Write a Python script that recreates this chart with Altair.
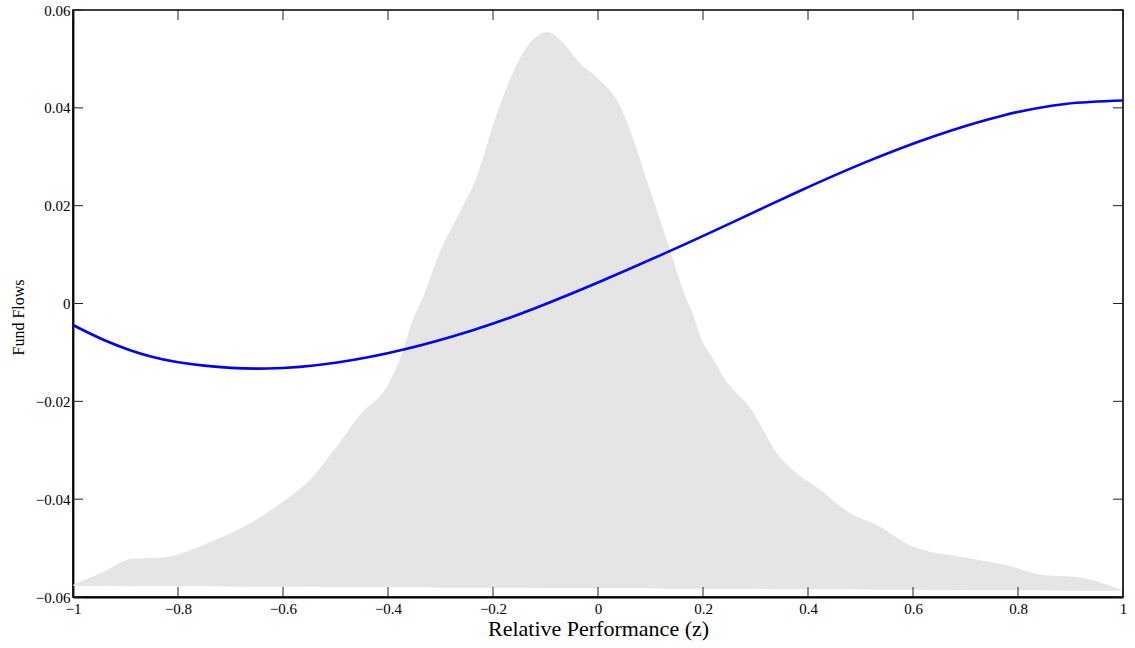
import altair as alt
import pandas as pd

# Fitted flow–performance relation
perf_grid = [-1.0, -0.94, -0.85, -0.75, -0.63, -0.50, -0.37, -0.24, -0.15, -0.09,
             0.0, 0.13, 0.26, 0.38, 0.51, 0.64, 0.77, 0.89, 1.0]
flow_fit = [-0.0044, -0.0075, -0.0109, -0.0127, -0.0133, -0.0121, -0.0094, -0.0055,
            -0.0022, 0.0003, 0.0043, 0.0104, 0.0168, 0.0228, 0.0289, 0.0342, 0.0384,
            0.0408, 0.0415]

# Density of relative performance (shaded backdrop)
dens_x = [-1.0, -0.943, -0.886, -0.835, -0.797, -0.740, -0.676, -0.601, -0.549, -0.498,
          -0.454, -0.403, -0.378, -0.353, -0.334, -0.302, -0.264, -0.231, -0.201, -0.168,
          -0.136, -0.096, -0.067, -0.035, 0.003, 0.036, 0.066, 0.099, 0.131, 0.169,
          0.180, 0.194, 0.218, 0.245, 0.289, 0.346, 0.378, 0.416, 0.479, 0.531,
          0.594, 0.702, 0.778, 0.847, 0.912, 0.942, 1.0]
dens_top = [-0.0575, -0.0549, -0.0522, -0.0520, -0.0512, -0.0488, -0.0457, -0.0406, -0.0361, -0.0293,
            -0.0228, -0.0171, -0.0116, -0.0034, 0.0011, 0.0103, 0.0185, 0.0259, 0.0361, 0.0457,
            0.0524, 0.0555, 0.0533, 0.0492, 0.0457, 0.0416, 0.0340, 0.0232, 0.0130, 0.0007,
            -0.0019, -0.0065, -0.0112, -0.0160, -0.0212, -0.0314, -0.0347, -0.0375, -0.0428, -0.0453,
            -0.0494, -0.0520, -0.0535, -0.0555, -0.0559, -0.0565, -0.0587]
dens_floor = [-0.0577, -0.0577, -0.0578, -0.0578, -0.0578, -0.0578, -0.0579, -0.0579, -0.0579, -0.0580,
              -0.0580, -0.0580, -0.0580, -0.0580, -0.0580, -0.0581, -0.0581, -0.0581, -0.0581, -0.0581,
              -0.0581, -0.0582, -0.0582, -0.0582, -0.0582, -0.0582, -0.0582, -0.0582, -0.0583, -0.0583,
              -0.0583, -0.0583, -0.0583, -0.0583, -0.0583, -0.0584, -0.0584, -0.0584, -0.0584, -0.0585,
              -0.0585, -0.0586, -0.0586, -0.0586, -0.0587, -0.0587, -0.0587]

x_ticks = [-1.0, -0.8, -0.6, -0.4, -0.2, 0.0, 0.2, 0.4, 0.6, 0.8, 1.0]
y_ticks = [-0.06, -0.04, -0.02, 0.0, 0.02, 0.04, 0.06]

X_TITLE = "Relative Performance (z)"
Y_TITLE = "Fund Flows"
W, H = 1050, 587
SERIF = "Liberation Serif"

fit_df = pd.DataFrame({"z": perf_grid, "flow": flow_fit})
dens_df = pd.DataFrame({"z": dens_x, "top": dens_top, "floor": dens_floor})
xt_df = pd.DataFrame({"z": x_ticks})
yt_df = pd.DataFrame({"flow": y_ticks})

x_scale = alt.Scale(domain=[-1, 1], nice=False, zero=False)
y_scale = alt.Scale(domain=[-0.06, 0.06], nice=False, zero=False)

x_axis = alt.Axis(values=x_ticks, format="~g")
y_axis = alt.Axis(values=y_ticks, format="~g")

density = alt.Chart(dens_df).mark_area(color="#e5e5e5", interpolate="monotone").encode(
    x=alt.X("z:Q", scale=x_scale, axis=x_axis, title=X_TITLE),
    y=alt.Y("top:Q", scale=y_scale, axis=y_axis, title=Y_TITLE),
    y2="floor:Q",
)

fit_line = alt.Chart(fit_df).mark_line(color="#0000ff", strokeWidth=2.6,
                                       interpolate="natural").encode(
    x=alt.X("z:Q", scale=x_scale, axis=x_axis, title=X_TITLE),
    y=alt.Y("flow:Q", scale=y_scale, axis=y_axis, title=Y_TITLE),
)

# Inward tick marks on all four sides of the box
tick_style = dict(color="#222222", strokeWidth=1)
xt_bottom = alt.Chart(xt_df).mark_rule(**tick_style).encode(
    x=alt.X("z:Q", scale=x_scale, axis=x_axis, title=X_TITLE),
    y=alt.value(H), y2=alt.value(H - 10))
xt_top = alt.Chart(xt_df).mark_rule(**tick_style).encode(
    x=alt.X("z:Q", scale=x_scale, axis=x_axis, title=X_TITLE),
    y=alt.value(0), y2=alt.value(10))
yt_left = alt.Chart(yt_df).mark_rule(**tick_style).encode(
    y=alt.Y("flow:Q", scale=y_scale, axis=y_axis, title=Y_TITLE),
    x=alt.value(0), x2=alt.value(10))
yt_right = alt.Chart(yt_df).mark_rule(**tick_style).encode(
    y=alt.Y("flow:Q", scale=y_scale, axis=y_axis, title=Y_TITLE),
    x=alt.value(W - 10), x2=alt.value(W))

chart = (
    alt.layer(density, fit_line, xt_bottom, xt_top, yt_left, yt_right)
    .properties(
        width=W, height=H, background="white",
        autosize=alt.AutoSizeParams(type="none"),
        padding={"left": 73, "top": 10, "right": 12, "bottom": 51},
    )
    .configure_view(stroke="black", strokeWidth=1.6)
    .configure_axis(ticks=False, grid=False, domain=True, domainColor="black",
                    domainWidth=1.8, labelFont=SERIF, labelFontSize=15,
                    labelColor="black", labelFlush=False, titleFont=SERIF,
                    titleFontWeight="normal", titleColor="black")
    .configure_axisX(labelPadding=4, titleFontSize=22, titlePadding=2)
    .configure_axisY(labelPadding=3, titleFontSize=16, titleAngle=-90,
                     titleX=-50, titleY=307, titleAlign="center",
                     titleBaseline="alphabetic")
)

chart.save("out.html", embed_options={"renderer": "svg", "actions": False})
